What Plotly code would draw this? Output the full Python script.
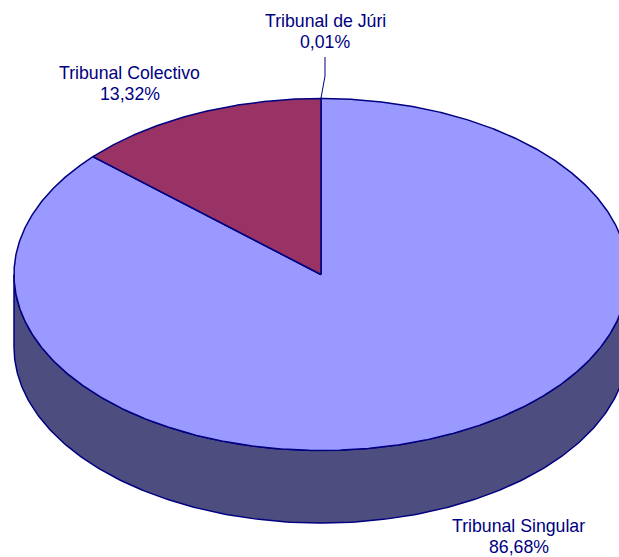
import numpy as np
import plotly.graph_objects as go

categories = ["Tribunal Singular", "Tribunal de Júri", "Tribunal Colectivo"]
shares = [86.68, 0.01, 13.32]
top_colors = ["#9999FF", "#660066", "#993366"]
label_text = ["86,68%", "0,01%", "13,32%"]

OUT = "#000080"
WALL = "#4D4D80"
W, H = 619, 557
CX, CY, RX, RY, DEPTH = 321.0, 274.5, 307.0, 176.0, 72.5


def pt(theta_deg, dy=0.0):
    t = np.radians(theta_deg)
    return CX + RX * np.sin(t), CY - RY * np.cos(t) + dy


fig = go.Figure()

# side wall: front half of the ellipse, extruded downward
th = np.linspace(90, 270, 240)
xa, ya = pt(th)
xb, yb = pt(th[::-1], DEPTH)
fig.add_trace(go.Scatter(
    x=np.r_[xa, xb, xa[0]], y=np.r_[ya, yb, ya[0]], mode="lines",
    fill="toself", fillcolor=WALL, line=dict(color=OUT, width=1.5),
    hoverinfo="skip", showlegend=False))

# top face slices, clockwise from 12 o'clock, sized from the shares
start = 0.0
total = sum(shares)
for name, s, col in zip(categories, shares, top_colors):
    end = start + s / total * 360.0
    t = np.linspace(start, end, max(int(end - start) * 3, 2))
    x, y = pt(t)
    fig.add_trace(go.Scatter(
        x=np.r_[CX, x, CX], y=np.r_[CY, y, CY], mode="lines",
        fill="toself", fillcolor=col, line=dict(color=OUT, width=1.5),
        name=name, hoverinfo="name", showlegend=False))
    start = end

# leader line for the smallest slice
fig.add_trace(go.Scatter(
    x=[321, 325, 325], y=[98, 76, 57], mode="lines",
    line=dict(color=OUT, width=1), hoverinfo="skip", showlegend=False))

label_pos = [(518.5, 526), (325, 21), (129.5, 73)]
LINE_GAP = 21
for name, txt, (lx, ly) in zip(categories, label_text, label_pos):
    for line, yy in ((name, ly), (txt, ly + LINE_GAP)):
        fig.add_annotation(
            x=lx, y=yy, xref="x", yref="y", text=line,
            showarrow=False, align="center", xanchor="center", yanchor="middle",
            font=dict(family="Liberation Sans, Arial, sans-serif", size=17.7, color=OUT))

fig.update_layout(
    width=W, height=H, margin=dict(l=0, r=0, t=0, b=0),
    paper_bgcolor="white", plot_bgcolor="white", showlegend=False,
    xaxis=dict(range=[0, W], visible=False, fixedrange=True),
    yaxis=dict(range=[H, 0], visible=False, fixedrange=True),
)
fig.write_html(
    "out.html",
    config={"displayModeBar": False},
    post_script="document.body.style.margin='0';document.body.style.overflow='hidden';",
)
